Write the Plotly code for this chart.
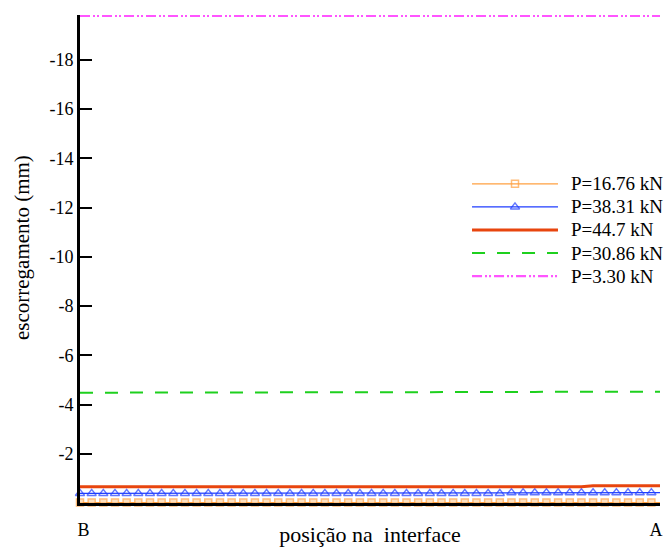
import plotly.graph_objects as go

# Node positions along the interface (B at the start, A at the end)
positions = list(range(50)) + [49.74]
edge_labels = ["B", "A"]
edge_label_pos = [0.3, 49.4]

# Slip (mm) at each node for each load step
slip_16_76 = [
    -0.02, -0.02, -0.02, -0.02, -0.02, -0.02, -0.02, -0.02, -0.02, -0.02,
    -0.02, -0.02, -0.02, -0.02, -0.02, -0.02, -0.02, -0.02, -0.02, -0.02,
    -0.02, -0.02, -0.02, -0.02, -0.02, -0.02, -0.02, -0.02, -0.02, -0.02,
    -0.02, -0.02, -0.02, -0.02, -0.02, -0.02, -0.02, -0.02, -0.02, -0.02,
    -0.02, -0.02, -0.02, -0.02, -0.02, -0.02, -0.02, -0.02, -0.02, -0.02,
    -0.02,
]
slip_38_31 = [
    -0.39, -0.39, -0.39, -0.39, -0.39, -0.39, -0.39, -0.39, -0.39, -0.39,
    -0.39, -0.39, -0.39, -0.39, -0.39, -0.39, -0.39, -0.39, -0.39, -0.39,
    -0.39, -0.39, -0.39, -0.39, -0.39, -0.39, -0.39, -0.39, -0.39, -0.39,
    -0.39, -0.39, -0.39, -0.39, -0.39, -0.39, -0.39, -0.42, -0.42, -0.42,
    -0.42, -0.42, -0.42, -0.42, -0.42, -0.42, -0.42, -0.42, -0.42, -0.42,
    -0.42,
]
slip_44_7 = [
    -0.66, -0.66, -0.66, -0.66, -0.66, -0.66, -0.66, -0.66, -0.66, -0.66,
    -0.66, -0.66, -0.66, -0.66, -0.66, -0.66, -0.66, -0.66, -0.66, -0.66,
    -0.66, -0.66, -0.66, -0.66, -0.66, -0.66, -0.66, -0.66, -0.66, -0.66,
    -0.66, -0.66, -0.66, -0.66, -0.66, -0.66, -0.66, -0.66, -0.66, -0.66,
    -0.66, -0.66, -0.66, -0.66, -0.70, -0.70, -0.70, -0.70, -0.70, -0.70,
    -0.70,
]
slip_30_86 = [
    -4.48, -4.48, -4.48, -4.48, -4.48, -4.48, -4.48, -4.48, -4.48, -4.48,
    -4.49, -4.49, -4.49, -4.49, -4.49, -4.49, -4.49, -4.49, -4.49, -4.49,
    -4.50, -4.50, -4.50, -4.50, -4.50, -4.50, -4.50, -4.50, -4.50, -4.50,
    -4.51, -4.51, -4.51, -4.51, -4.51, -4.51, -4.51, -4.51, -4.51, -4.51,
    -4.52, -4.52, -4.52, -4.52, -4.52, -4.52, -4.52, -4.52, -4.52, -4.52,
    -4.52,
]
slip_3_30 = [
    -19.78, -19.78, -19.78, -19.78, -19.78, -19.78, -19.78, -19.78, -19.78, -19.78,
    -19.78, -19.78, -19.78, -19.78, -19.78, -19.78, -19.78, -19.78, -19.78, -19.78,
    -19.78, -19.78, -19.78, -19.78, -19.78, -19.78, -19.78, -19.78, -19.78, -19.78,
    -19.78, -19.78, -19.78, -19.78, -19.78, -19.78, -19.78, -19.78, -19.78, -19.78,
    -19.78, -19.78, -19.78, -19.78, -19.78, -19.78, -19.78, -19.78, -19.78, -19.78,
    -19.78,
]

series_names = ["P=16.76 kN", "P=38.31 kN", "P=44.7 kN", "P=30.86 kN", "P=3.30 kN"]
series_values = [slip_16_76, slip_38_31, slip_44_7, slip_30_86, slip_3_30]

y_ticks = [-2, -4, -6, -8, -10, -12, -14, -16, -18]
y_tick_text = [str(v) for v in y_ticks]

FONT = "Times New Roman, Liberation Serif, DejaVu Serif, serif"

styles = [
    dict(line=dict(color="#FFA040", width=1.2),
         marker=dict(symbol="square", size=7, color="#FFD6A8",
                     line=dict(width=1.5, color="#FFA040"))),
    dict(line=dict(color="#1F3DFF", width=1.2),
         marker=dict(symbol="triangle-up-open", size=8, color="#1F3DFF", line=dict(width=1.5))),
    dict(line=dict(color="#E8450E", width=3), marker=None),
    dict(line=dict(color="#1ED01E", width=2, dash="13px,12px"), marker=None),
    dict(line=dict(color="#FF55FF", width=2.2, dash="10px,3px,2px,2px,2px,3px"), marker=None),
]
legend_markers = [
    dict(symbol="square-open", size=7, color="#FFA040", line=dict(width=1.5)),
    dict(symbol="triangle-up-open", size=8, color="#1F3DFF", line=dict(width=1.5)),
    None, None, None,
]

fig = go.Figure()

for name, vals, st in zip(series_names, series_values, styles):
    if st["marker"] is not None:
        m = dict(st["marker"])
        m["size"] = [m["size"] if p == int(p) else 0 for p in positions]
        fig.add_trace(go.Scatter(x=positions, y=vals, mode="lines+markers", name=name,
                                 line=st["line"], marker=m, cliponaxis=False,
                                 showlegend=False))
    else:
        fig.add_trace(go.Scatter(x=positions, y=vals, mode="lines", name=name,
                                 line=st["line"], showlegend=False))

# Key drawn in an inset axis so the sample lines can be long
for row, (name, st, lm) in enumerate(zip(series_names, styles, legend_markers)):
    if lm is not None:
        m = dict(lm)
        m["size"] = [0, m["size"], 0]
        fig.add_trace(go.Scatter(x=[0, 0.5, 1], y=[row, row, row], mode="lines+markers",
                                 line=st["line"], marker=m, xaxis="x2", yaxis="y2",
                                 showlegend=False, hoverinfo="skip", cliponaxis=False))
    else:
        fig.add_trace(go.Scatter(x=[0, 1], y=[row, row], mode="lines", line=st["line"],
                                 xaxis="x2", yaxis="y2", showlegend=False,
                                 hoverinfo="skip", cliponaxis=False))
    fig.add_annotation(x=1, y=row, xref="x2", yref="y2", text=name, showarrow=False,
                       xanchor="left", yanchor="middle", xshift=11,
                       font=dict(family=FONT, size=19, color="black"))

# Vertical axis title
fig.add_annotation(x=0, y=0.5225, xref="paper", yref="paper", text="escorregamento (mm)",
                   textangle=-90, showarrow=False, xanchor="center", yanchor="middle",
                   xshift=-58, font=dict(family=FONT, size=21, color="black"))

fig.update_layout(
    width=664, height=547,
    margin=dict(l=80, r=4, t=15, b=44),
    paper_bgcolor="white", plot_bgcolor="white",
    font=dict(family=FONT, size=17, color="black"),
    xaxis=dict(
        range=[0, 49.74], showgrid=False, zeroline=False, automargin=False,
        showline=True, linecolor="black", linewidth=3,
        tickvals=edge_label_pos, ticktext=edge_labels, ticks="",
        ticklabelstandoff=8,
        tickfont=dict(family=FONT, size=18),
        title=dict(text="posição na\u00a0 interface", standoff=1,
                   font=dict(family=FONT, size=22)),
    ),
    yaxis=dict(
        range=[0, -19.82], showgrid=False, zeroline=False, automargin=False,
        showline=True, linecolor="black", linewidth=3,
        tickvals=y_ticks, ticktext=y_tick_text,
        ticks="inside", ticklen=12, tickwidth=2, tickcolor="black",
        ticklabelstandoff=0,
        tickfont=dict(family=FONT, size=18),
    ),
    xaxis2=dict(domain=[0.6759, 0.8241], range=[0, 1], visible=False, fixedrange=True),
    yaxis2=dict(domain=[0.4365, 0.6824], range=[4.6, -0.6], visible=False, fixedrange=True),
)

fig.write_html("out.html")
